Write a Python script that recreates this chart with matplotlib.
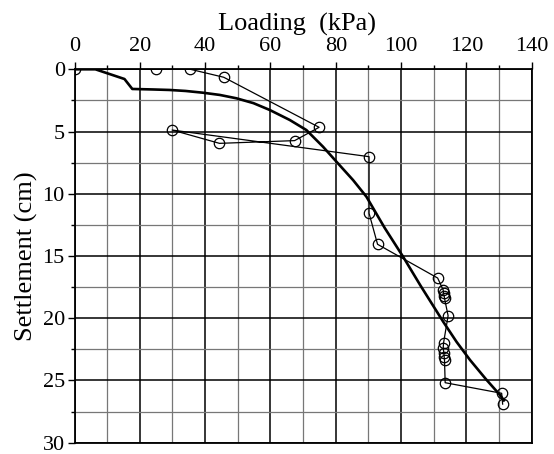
import matplotlib
matplotlib.use("Agg")
import matplotlib.pyplot as plt
from matplotlib.ticker import MultipleLocator

# Measured load-settlement points (thin line with circles)
load = [0, 25.0, 35.5, 45.7, 74.9, 67.4, 44.4, 29.9, 90.2, 90.2, 92.8, 111.2,
        112.9, 113.0, 113.2, 113.3, 114.4, 113.0, 112.9, 113.1, 113.2, 113.3,
        113.5, 130.8, 131.1]
settle = [0, 0, 0, 0.64, 4.66, 5.73, 5.95, 4.88, 7.02, 11.57, 14.06, 16.77,
          17.73, 18.0, 18.21, 18.4, 19.8, 22.0, 22.4, 22.8, 23.1, 23.35,
          25.18, 26.03, 26.9]

# Fitted curve (thick line)
curve_load = [0, 6.4, 15.3, 17.7, 24.0, 29.1, 34.0, 39.3, 44.5, 49.6, 54.8, 59.8,
              65.9, 71.0, 76.1, 80.2, 85.3, 89.4, 95.0, 100.6, 106.0, 112.9,
              117.0, 121.1, 126.0, 130.3, 131.5]
curve_settle = [0, 0, 0.78, 1.58, 1.62, 1.66, 1.74, 1.88, 2.06, 2.33, 2.72, 3.27,
                4.07, 4.88, 6.22, 7.42, 8.9, 10.24, 12.75, 15.05, 17.4, 20.28,
                21.9, 23.35, 24.9, 26.17, 26.6]

x_ticks = [0, 20, 40, 60, 80, 100, 120, 140]
y_ticks = [0, 5, 10, 15, 20, 25, 30]

plt.rcParams['font.family'] = ['Liberation Serif', 'DejaVu Serif']

fig = plt.figure(figsize=(5.54, 4.54), dpi=100)
ax = fig.add_axes([74.5/554, 1-442.7/454, (531.7-74.5)/554, (442.7-69.3)/454])

ax.set_xlim(0, 140)
ax.set_ylim(30, 0)
ax.set_xticks(x_ticks)
ax.set_yticks(y_ticks)
ax.xaxis.set_minor_locator(MultipleLocator(10))
ax.yaxis.set_minor_locator(MultipleLocator(2.5))
ax.xaxis.tick_top()
ax.xaxis.set_label_position('top')

ax.grid(which='major', color='black', linewidth=1.1, zorder=0)
ax.grid(which='minor', color='#777777', linewidth=0.9, zorder=0)
ax.set_axisbelow(True)

ax.tick_params(which='major', direction='out', length=5, width=1.0, labelsize=16)
ax.tick_params(which='minor', direction='out', length=3, width=1.0)
ax.tick_params(axis='x', which='major', pad=4.5)
ax.tick_params(axis='y', which='major', pad=2)

for s in ax.spines.values():
    s.set_linewidth(1.3)
    s.set_color('black')

ax.plot(load, settle, color='black', linewidth=0.9, marker='o', markersize=7.5,
        markerfacecolor='none', markeredgecolor='black', markeredgewidth=0.9, zorder=3)
ax.plot(curve_load, curve_settle, color='black', linewidth=1.9, zorder=4)

ax.set_xlabel('Loading  (kPa)', fontsize=19)
ax.set_ylabel('Settlement (cm)', fontsize=19)
ax.xaxis.set_label_coords((297 - 74.5) / 457.2, (442.7 - 30.7) / 373.4)
ax.yaxis.set_label_coords((38 - 74.5) / 457.2, 0.5)

fig.savefig('out.png', dpi=100)
